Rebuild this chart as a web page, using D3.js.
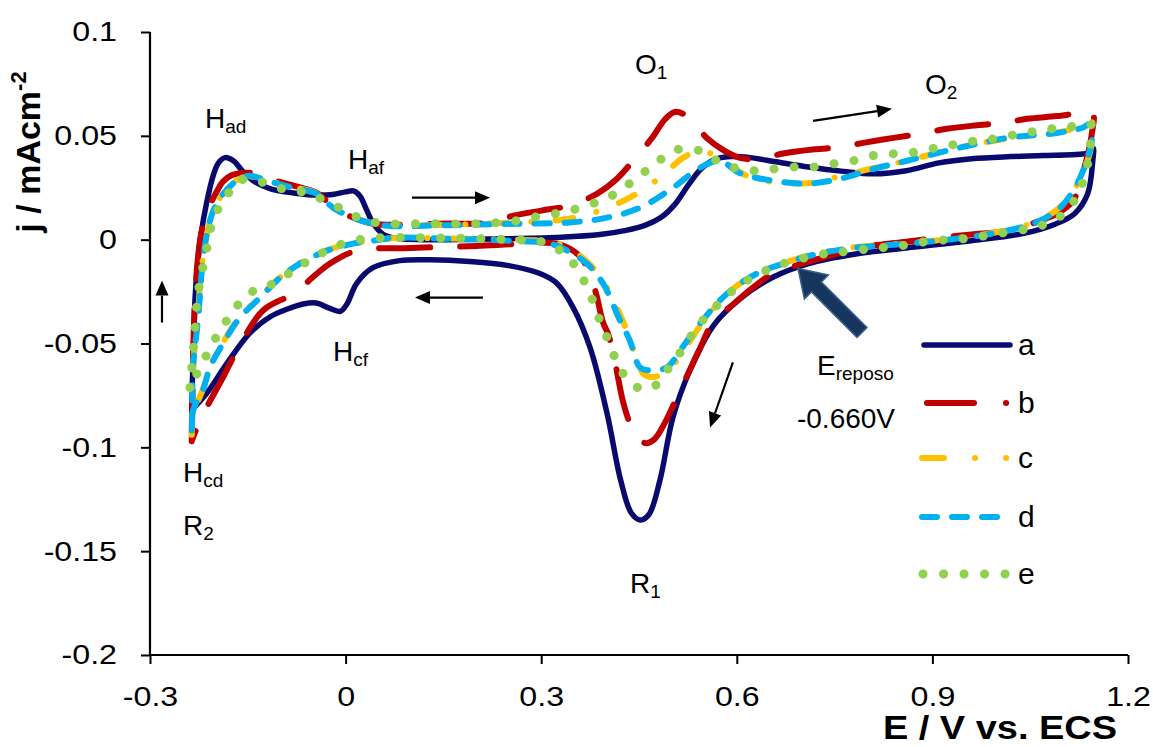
<!DOCTYPE html>
<html>
<head>
<meta charset="utf-8">
<script src="https://cdn.jsdelivr.net/npm/d3@7"></script>
<style>
  body { margin: 0; background: #fff; }
  text { font-family: Arial, "Liberation Sans", sans-serif; }
</style>
</head>
<body>
<svg id="chart"></svg>
<script>
// Cyclic voltammograms, points as [E (V vs ECS), j (mA cm-2)]
const curveA = [
  [-0.236,-0.082],[-0.235,-0.068],[-0.233,-0.050],[-0.231,-0.029],[-0.227,-0.012],[-0.222,0.002],
  [-0.213,0.018],[-0.203,0.031],[-0.195,0.037],[-0.185,0.0395],[-0.172,0.038],[-0.158,0.033],
  [-0.14,0.028],[-0.115,0.0245],[-0.08,0.0225],[-0.045,0.0215],[-0.02,0.0218],[0.0,0.023],
  [0.012,0.0235],[0.022,0.021],[0.032,0.0145],[0.042,0.008],[0.058,0.0025],[0.08,0.0005],
  [0.15,0.0],[0.25,0.0005],[0.33,0.0012],[0.39,0.0025],[0.43,0.0045],[0.46,0.007],[0.485,0.011],
  [0.505,0.017],[0.525,0.026],[0.545,0.034],[0.565,0.0385],[0.59,0.040],[0.62,0.0395],[0.66,0.0375],
  [0.71,0.035],[0.76,0.033],[0.81,0.0317],[0.86,0.0332],[0.91,0.037],[0.96,0.039],[1.02,0.040],
  [1.07,0.0405],[1.13,0.0413],[1.143,0.042],[1.147,0.044],
  [1.146,0.038],[1.138,0.022],[1.118,0.0125],[1.09,0.0077],[1.04,0.003],[0.96,-0.0005],[0.86,-0.004],
  [0.78,-0.007],[0.71,-0.0115],[0.656,-0.018],[0.605,-0.0285],[0.565,-0.041],[0.528,-0.063],
  [0.502,-0.0856],[0.482,-0.116],[0.465,-0.1325],[0.452,-0.135],[0.438,-0.1315],[0.422,-0.116],
  [0.401,-0.0837],[0.375,-0.052],[0.349,-0.0327],[0.324,-0.021],[0.298,-0.0163],[0.25,-0.0125],
  [0.19,-0.0105],[0.13,-0.0097],[0.083,-0.0101],[0.042,-0.0135],[0.017,-0.021],[0.002,-0.031],
  [-0.008,-0.0345],[-0.025,-0.033],[-0.045,-0.0305],[-0.065,-0.031],[-0.09,-0.0335],[-0.115,-0.037],
  [-0.147,-0.045],[-0.182,-0.0596],[-0.213,-0.074],[-0.236,-0.082]
];
const curveB = [
  [-0.236,-0.097],[-0.235,-0.080],[-0.234,-0.058],[-0.232,-0.036],[-0.228,-0.014],[-0.222,0.002],
  [-0.212,0.014],[-0.197,0.0235],[-0.188,0.028],[-0.175,0.031],[-0.162,0.032],[-0.142,0.032],
  [-0.12,0.0295],[-0.08,0.026],[-0.044,0.0225],[-0.02,0.016],[0.005,0.0115],[0.042,0.0077],
  [0.09,0.0072],[0.145,0.0077],[0.2215,0.0082],[0.257,0.0115],[0.3,0.014],[0.344,0.0165],
  [0.386,0.0222],[0.415,0.029],[0.441,0.038],[0.47,0.049],[0.49,0.058],[0.505,0.0615],[0.523,0.0596],
  [0.554,0.049],[0.58,0.043],[0.605,0.0394],[0.636,0.039],[0.671,0.0415],[0.72,0.0435],[0.758,0.0445],
  [0.794,0.0466],[0.84,0.049],[0.881,0.051],[0.922,0.0534],[0.965,0.055],[1.008,0.0562],[1.045,0.0582],
  [1.09,0.0595],[1.131,0.061],[1.146,0.061],
  [1.144,0.050],[1.137,0.0394],[1.125,0.026],[1.116,0.0188],[1.091,0.0125],[1.065,0.0091],
  [1.014,0.0043],[0.96,0.0025],[0.912,0.001],[0.86,-0.001],[0.809,-0.0029],[0.77,-0.0055],
  [0.732,-0.0087],[0.695,-0.012],[0.656,-0.0163],[0.625,-0.023],[0.595,-0.031],[0.563,-0.040],
  [0.544,-0.052],[0.526,-0.064],[0.508,-0.076],[0.49,-0.088],[0.474,-0.096],[0.462,-0.098],
  [0.45,-0.0965],[0.441,-0.092],[0.433,-0.086],[0.425,-0.0774],[0.417,-0.065],[0.41,-0.0534],
  [0.402,-0.045],[0.395,-0.040],[0.385,-0.027],[0.375,-0.0163],[0.362,-0.009],[0.349,-0.0053],
  [0.324,-0.0019],[0.27,-0.002],[0.2,-0.003],[0.1,-0.004],[0.0175,-0.0053],[-0.024,-0.0115],
  [-0.0807,-0.026],[-0.1267,-0.0341],[-0.1666,-0.0534],[-0.188,-0.0663],[-0.2233,-0.087],
  [-0.236,-0.097]
];
const curveC = [
  [-0.236,-0.094],[-0.2355,-0.085],[-0.234,-0.062],[-0.227,-0.038],[-0.221,-0.014],[-0.213,0.002],
  [-0.204,0.013],[-0.19,0.0215],[-0.17,0.028],[-0.15,0.0305],[-0.125,0.029],[-0.085,0.0255],
  [-0.046,0.0225],[-0.02,0.016],[0.01,0.011],[0.04,0.008],[0.075,0.007],[0.13,0.007],[0.2,0.0075],
  [0.27,0.0085],[0.33,0.0095],[0.37,0.012],[0.41,0.0165],[0.44,0.021],[0.482,0.0298],[0.5175,0.0394],
  [0.5436,0.0428],[0.57,0.040],[0.60,0.0335],[0.625,0.0295],[0.665,0.0275],[0.708,0.0272],
  [0.758,0.0305],[0.81,0.0345],[0.86,0.038],[0.94,0.0443],[1.01,0.0485],[1.09,0.0515],[1.13,0.0545],
  [1.145,0.0565],
  [1.146,0.049],[1.133,0.0335],[1.117,0.024],[1.097,0.016],[1.065,0.0095],[1.014,0.0046],
  [0.938,0.0008],[0.861,-0.0017],[0.784,-0.0035],[0.732,-0.006],[0.686,-0.0098],[0.631,-0.016],
  [0.585,-0.0262],[0.545,-0.041],[0.515,-0.055],[0.495,-0.063],[0.475,-0.066],[0.458,-0.065],
  [0.447,-0.058],[0.436,-0.048],[0.421,-0.036],[0.409,-0.029],[0.395,-0.0195],[0.37,-0.0105],
  [0.345,-0.0045],[0.315,-0.001],[0.25,0.0],[0.15,0.0006],[0.08,0.0008],[0.042,-0.0004],
  [0.011,-0.0018],[-0.028,-0.005],[-0.07,-0.0112],[-0.1,-0.018],[-0.131,-0.0275],[-0.162,-0.037],
  [-0.188,-0.0495],[-0.208,-0.061],[-0.22,-0.073],[-0.234,-0.084],[-0.236,-0.094]
];
const curveD = [
  [-0.236,-0.0918],[-0.2355,-0.0856],[-0.234,-0.0615],[-0.226,-0.0375],[-0.220,-0.0135],
  [-0.2126,0.0029],[-0.203,0.0139],[-0.188,0.022],[-0.167,0.0284],[-0.147,0.0308],[-0.121,0.0284],
  [-0.0807,0.025],[-0.044,0.0221],[-0.0193,0.0154],[0.0113,0.0106],[0.042,0.0077],[0.0727,0.0065],
  [0.13,0.0068],[0.195,0.0072],[0.263,0.0077],[0.34,0.0082],[0.401,0.0106],[0.4515,0.0154],
  [0.502,0.025],[0.5436,0.0346],[0.574,0.038],[0.605,0.032],[0.656,0.0284],[0.708,0.027],
  [0.758,0.0293],[0.809,0.034],[0.861,0.038],[0.938,0.044],[1.014,0.049],[1.091,0.0514],
  [1.131,0.054],[1.142,0.0558],
  [1.145,0.049],[1.131,0.0332],[1.116,0.0236],[1.096,0.0154],[1.065,0.0091],[1.014,0.0043],
  [0.938,0.0005],[0.861,-0.0019],[0.784,-0.0038],[0.732,-0.0063],[0.686,-0.0101],[0.631,-0.0163],
  [0.585,-0.026],[0.5436,-0.0404],[0.5129,-0.0534],[0.493,-0.0615],[0.467,-0.063],[0.4515,-0.0615],
  [0.436,-0.0486],[0.421,-0.039],[0.395,-0.0212],[0.37,-0.0115],[0.34,-0.0053],[0.3135,-0.0019],
  [0.25,-0.0005],[0.15,0.0005],[0.0788,0.001],[0.042,-0.0005],[0.0113,-0.0019],[-0.0285,-0.0053],
  [-0.07,-0.0115],[-0.1006,-0.0183],[-0.131,-0.0279],[-0.162,-0.0375],[-0.188,-0.050],
  [-0.208,-0.0615],[-0.219,-0.0726],[-0.234,-0.0822],[-0.236,-0.0918]
];
const curveE = [
  [-0.2387,-0.0712],[-0.234,-0.0548],[-0.231,-0.0423],[-0.2264,-0.026],[-0.22,-0.0149],
  [-0.2126,-0.0038],[-0.208,0.0043],[-0.197,0.0139],[-0.182,0.0212],[-0.165,0.0284],[-0.136,0.0284],
  [-0.105,0.025],[-0.0745,0.0236],[-0.05,0.0212],[-0.021,0.0173],[0.0067,0.0125],[0.034,0.0091],
  [0.0635,0.0077],[0.13,0.0077],[0.2,0.0077],[0.26,0.009],[0.3,0.0115],[0.33,0.013],[0.36,0.0154],
  [0.39,0.0187],[0.416,0.0226],[0.441,0.0284],[0.464,0.034],[0.487,0.0394],[0.513,0.0437],
  [0.5436,0.0428],[0.57,0.038],[0.597,0.0346],[0.625,0.0332],[0.6555,0.034],[0.686,0.035],
  [0.717,0.035],[0.7475,0.0365],[0.778,0.038],[0.807,0.0404],[0.835,0.0413],[0.8656,0.0418],
  [0.896,0.0437],[0.924,0.0452],[0.953,0.0471],[0.984,0.048],[1.014,0.050],[1.042,0.051],
  [1.07,0.0534],[1.1,0.0534],[1.131,0.0558],[1.145,0.055],
  [1.142,0.045],[1.135,0.032],[1.125,0.0236],[1.11,0.0154],[1.085,0.009],[1.05,0.0055],[1.0,0.0029],
  [0.95,0.0005],[0.9,-0.0005],[0.85,-0.003],[0.8,-0.0045],[0.75,-0.0063],[0.717,-0.0077],
  [0.689,-0.0101],[0.6617,-0.0125],[0.6356,-0.0163],[0.608,-0.0212],[0.585,-0.0269],[0.562,-0.0341],
  [0.5436,-0.0404],[0.525,-0.0486],[0.508,-0.0567],[0.49,-0.064],[0.47,-0.0715],[0.45,-0.0715],
  [0.4255,-0.0644],[0.413,-0.0567],[0.401,-0.0471],[0.39,-0.039],[0.379,-0.0293],[0.367,-0.0207],
  [0.352,-0.0125],[0.3334,-0.0063],[0.3058,-0.0014],[0.25,0.0],[0.15,0.0008],[0.0328,0.0005],
  [-0.004,-0.0019],[-0.0439,-0.0077],[-0.0807,-0.0149],[-0.111,-0.0212],[-0.136,-0.0236],
  [-0.162,-0.0303],[-0.177,-0.0365],[-0.1926,-0.0438],[-0.208,-0.0524],[-0.223,-0.0615],
  [-0.2387,-0.0712]
];

const seriesNames = ['a', 'b', 'c', 'd', 'e'];
const seriesData = [curveA, curveB, curveC, curveD, curveE];
const xTicks = [-0.3, 0, 0.3, 0.6, 0.9, 1.2];
const yTicks = [0.1, 0.05, 0, -0.05, -0.1, -0.15, -0.2];

// styles per series
const colors = ['#0a0a6e', '#c00000', '#ffc000', '#00b0f0', '#92d050'];
const widths = [5.5, 6, 6, 6, 9];
const dashes = [null, '51 30', '18 24 0.1 24', '15 15', '0.1 20'];
const legendDashes = [null, '47 32 0.1 300', '22 31 0.1 31 0.1 300', '15 15', '0.1 20.4'];

const width = 1153;
const height = 747;
const stretch = 1.15; // text in the picture is a bit wider than plain Arial

const svg = d3.select('#chart')
  .attr('width', width)
  .attr('height', height);

svg.append('rect').attr('width', width).attr('height', height).attr('fill', '#fff');

const xScale = d3.scaleLinear().domain([-0.3, 1.2]).range([150, 1128]);
const yScale = d3.scaleLinear().domain([-0.2, 0.1]).range([655, 32]);

// axes
const xAxis = d3.axisBottom(xScale).tickValues(xTicks).tickFormat(d => String(d))
  .tickSize(9).tickPadding(22);
const gx = svg.append('g')
  .attr('transform', `translate(0, ${yScale(-0.2)})`)
  .call(xAxis);

const yAxis = d3.axisLeft(yScale).tickValues(yTicks).tickFormat(d => String(d))
  .tickSize(9).tickPadding(24);
const gy = svg.append('g')
  .attr('transform', `translate(${xScale(-0.3)}, 0)`)
  .call(yAxis);

[gx, gy].forEach(g => {
  g.select('.domain').attr('stroke', '#000').attr('stroke-width', 2.2);
  g.selectAll('.tick line').attr('stroke', '#000').attr('stroke-width', 2);
  g.selectAll('.tick text').attr('font-size', 28).attr('fill', '#000')
    .attr('font-family', 'Arial, "Liberation Sans", sans-serif')
    .attr('transform', `scale(${stretch},1)`);
});
gy.selectAll('.tick text').attr('x', -33 / stretch);
gx.select('.domain').attr('d', `M${xScale(-0.3)},0H${xScale(1.2)}`);
gy.select('.domain').attr('d', `M0,${yScale(0.1)}V${yScale(-0.2)}`);

// axis titles
svg.append('text')
  .attr('transform', `scale(${stretch},1)`)
  .attr('x', 1117 / stretch).attr('y', 739)
  .attr('text-anchor', 'end')
  .attr('font-size', 33).attr('font-weight', 'bold')
  .text('E / V vs. ECS');

const yTitle = svg.append('text')
  .attr('transform', 'translate(40, 152) rotate(-90)')
  .attr('text-anchor', 'middle')
  .attr('font-size', 34).attr('font-weight', 'bold');
yTitle.append('tspan').text('j / mAcm');
yTitle.append('tspan').attr('font-size', 22).attr('dy', -14).text('-2');

// curves
const line = d3.line()
  .x(d => xScale(d[0]))
  .y(d => yScale(d[1]))
  .curve(d3.curveCatmullRom.alpha(0.5));

seriesData.forEach((data, i) => {
  svg.append('path')
    .datum(data)
    .attr('d', line)
    .attr('fill', 'none')
    .attr('stroke', colors[i])
    .attr('stroke-width', widths[i])
    .attr('stroke-linecap', 'round')
    .attr('stroke-linejoin', 'round')
    .attr('stroke-dasharray', dashes[i]);
});

// legend
const legendY = [345, 403, 458, 517, 574];
const legendX = [[924, 1010], [927, 1010], [922, 1010], [922, 997], [923, 1006]];
seriesNames.forEach((name, i) => {
  svg.append('line')
    .attr('x1', legendX[i][0]).attr('x2', legendX[i][1])
    .attr('y1', legendY[i]).attr('y2', legendY[i])
    .attr('stroke', colors[i])
    .attr('stroke-width', widths[i])
    .attr('stroke-linecap', 'round')
    .attr('stroke-dasharray', legendDashes[i]);
  svg.append('text')
    .attr('x', 1018).attr('y', legendY[i] + 10)
    .attr('font-size', 30)
    .text(name);
});

// peak labels (positions in data units)
const labels = [
  ['H', 'ad', -0.2157, 0.0538],
  ['H', 'af', 0.0037, 0.0341],
  ['H', 'cf', -0.0193, -0.0582],
  ['H', 'cd', -0.2494, -0.1168],
  ['R', '2', -0.2494, -0.1423],
  ['O', '1', 0.4439, 0.0798],
  ['O', '2', 0.8887, 0.0702],
  ['R', '1', 0.4362, -0.1702],
  ['E', 'reposo', 0.723, -0.0654]
];
labels.forEach(([main, sub, ex, jy]) => {
  const t = svg.append('text')
    .attr('x', xScale(ex)).attr('y', yScale(jy))
    .attr('font-size', 28);
  t.append('tspan').text(main);
  t.append('tspan').attr('font-size', 19).attr('dy', 5).text(sub);
});
svg.append('text')
  .attr('x', xScale(0.6923)).attr('y', yScale(-0.0909))
  .attr('font-size', 28)
  .text('-0.660V');

// thin arrows
function arrow(e1, j1, e2, j2) {
  const x1 = xScale(e1), y1 = yScale(j1), x2 = xScale(e2), y2 = yScale(j2);
  const a = Math.atan2(y2 - y1, x2 - x1);
  const len = 15, half = 6.5;
  const bx = x2 - len * Math.cos(a), by = y2 - len * Math.sin(a);
  svg.append('line')
    .attr('x1', x1).attr('y1', y1).attr('x2', bx).attr('y2', by)
    .attr('stroke', '#000').attr('stroke-width', 2.2);
  svg.append('path')
    .attr('d', `M${x2},${y2}L${bx - half * Math.sin(a)},${by + half * Math.cos(a)}L${bx + half * Math.sin(a)},${by - half * Math.cos(a)}Z`)
    .attr('fill', '#000');
}
arrow(0.1018, 0.0202, 0.2215, 0.0202);
arrow(0.2107, -0.0279, 0.1064, -0.0279);
arrow(-0.2816, -0.0399, -0.2816, -0.0197);
arrow(0.7169, 0.0572, 0.838, 0.063);
arrow(0.594, -0.0591, 0.559, -0.0904);

// block arrow pointing at the rest potential
(function blockArrow(e1, j1, e2, j2) {
  const x1 = xScale(e1), y1 = yScale(j1), x2 = xScale(e2), y2 = yScale(j2);
  const a = Math.atan2(y2 - y1, x2 - x1);
  const L = Math.hypot(x2 - x1, y2 - y1);
  const shaft = 7, head = 17, headLen = 26;
  const pts = [[0, -shaft], [L - headLen, -shaft], [L - headLen, -head], [L, 0],
               [L - headLen, head], [L - headLen, shaft], [0, shaft]]
    .map(([u, v]) => [x1 + u * Math.cos(a) - v * Math.sin(a), y1 + u * Math.sin(a) + v * Math.cos(a)]);
  svg.append('path')
    .attr('d', 'M' + pts.map(p => p.join(',')).join('L') + 'Z')
    .attr('fill', '#17365d')
    .attr('stroke', '#3b5f8d')
    .attr('stroke-width', 1.5);
})(0.792, -0.0447, 0.6939, -0.0139);
</script>
</body>
</html>
